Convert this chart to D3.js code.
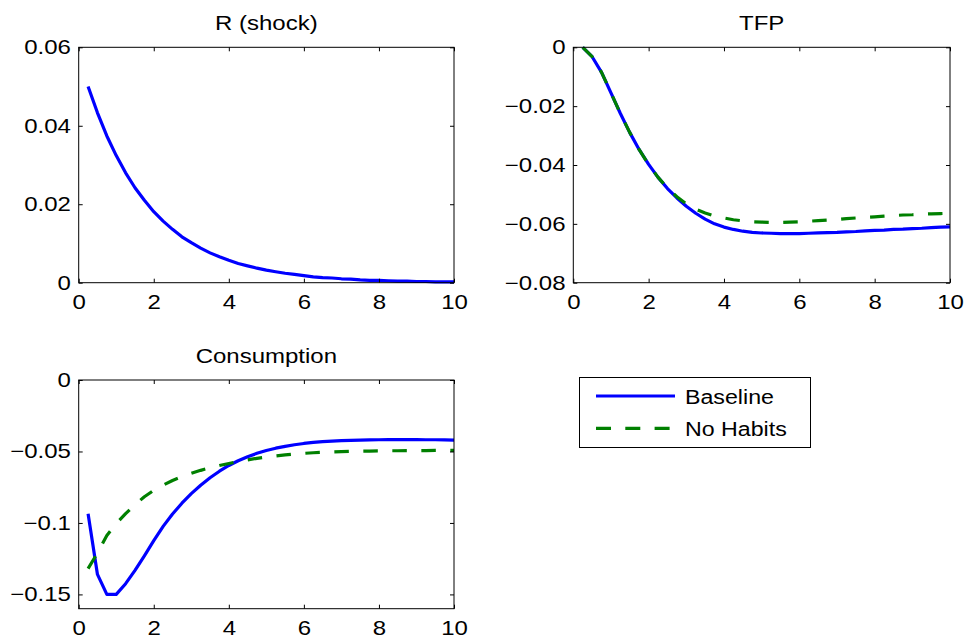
<!DOCTYPE html>
<html>
<head>
<meta charset="utf-8">
<script src="https://cdn.jsdelivr.net/npm/d3@7"></script>
<style>
  body { margin: 0; background: #fff; }
  svg text { font-family: "Liberation Sans", Arial, Helvetica, sans-serif; fill: #000; }
</style>
</head>
<body>
<div id="chart"></div>
<script>
// quarters after the shock (x axis)
var quarters = [0.25, 0.5, 0.75, 1, 1.25, 1.5, 1.75, 2, 2.25, 2.5,
  2.75, 3, 3.25, 3.5, 3.75, 4, 4.25, 4.5, 4.75, 5,
  5.25, 5.5, 5.75, 6, 6.25, 6.5, 6.75, 7, 7.25, 7.5,
  7.75, 8, 8.25, 8.5, 8.75, 9, 9.25, 9.5, 9.75, 10];

// R (shock)
var rShock = [0.05, 0.0433, 0.0374, 0.0324, 0.0280, 0.0242, 0.0210, 0.0181, 0.0157, 0.0136,
  0.0117, 0.0102, 0.0088, 0.0076, 0.0066, 0.0057, 0.0049, 0.0043, 0.0037, 0.0032,
  0.0028, 0.0024, 0.0021, 0.0018, 0.0015, 0.0013, 0.0012, 0.0010, 0.0009, 0.0007,
  0.0006, 0.0006, 0.0005, 0.0004, 0.0004, 0.0003, 0.0003, 0.0002, 0.0002, 0.0002];

// TFP
var tfpBaseline = [0, -0.0032, -0.0085, -0.0155, -0.0225, -0.029, -0.0348, -0.0398, -0.0442, -0.048,
  -0.0512, -0.054, -0.0564, -0.0584, -0.06, -0.0611, -0.0619, -0.0625, -0.0629, -0.0631,
  -0.0632, -0.0633, -0.0633, -0.0633, -0.0632, -0.0631, -0.063, -0.0629, -0.0627, -0.0626,
  -0.0624, -0.0622, -0.0621, -0.0619, -0.0618, -0.0616, -0.0615, -0.0613, -0.0611, -0.061];
var tfpNoHabits = [0, -0.0032, -0.0085, -0.0155, -0.0225, -0.029, -0.0348, -0.0398, -0.0442, -0.0478,
  -0.0508, -0.0532, -0.055, -0.0563, -0.0573, -0.058, -0.0586, -0.059, -0.0593, -0.0594,
  -0.0595, -0.0595, -0.0594, -0.0593, -0.0591, -0.0589, -0.0587, -0.0585, -0.0582, -0.058,
  -0.0578, -0.0576, -0.0574, -0.0572, -0.057, -0.0569, -0.0567, -0.0566, -0.0565, -0.0564];

// Consumption
var consBaseline = [-0.0935, -0.136, -0.150, -0.150, -0.1425, -0.1332, -0.1230, -0.1124, -0.1024, -0.0938,
  -0.0862, -0.0795, -0.0736, -0.0684, -0.0638, -0.0598, -0.0565, -0.0537, -0.0513, -0.0493,
  -0.0477, -0.0464, -0.0453, -0.0444, -0.0437, -0.0431, -0.0427, -0.0424, -0.0422, -0.0420,
  -0.0419, -0.0418, -0.0417, -0.0417, -0.0417, -0.0417, -0.0418, -0.0418, -0.0419, -0.0420];
var consNoHabits = [-0.132, -0.121, -0.1088, -0.1005, -0.0935, -0.0872, -0.0817, -0.0772, -0.0735, -0.0703,
  -0.0676, -0.0653, -0.0632, -0.0614, -0.0598, -0.0584, -0.0571, -0.0559, -0.0548, -0.0539,
  -0.0531, -0.0524, -0.0518, -0.0513, -0.0509, -0.0506, -0.0503, -0.0501, -0.0499, -0.0498,
  -0.0497, -0.0496, -0.0495, -0.0495, -0.0494, -0.0494, -0.0494, -0.0493, -0.0493, -0.0493];

// ticks
var xTicks = [0, 2, 4, 6, 8, 10];
var rTicks = [0, 0.02, 0.04, 0.06];
var tfpTicks = [0, -0.02, -0.04, -0.06, -0.08];
var consTicks = [0, -0.05, -0.1, -0.15];

var seriesNames = ['Baseline', 'No Habits'];

var svgWidth = 968;
var svgHeight = 639;
var fontSize = 20;
var stretch = 1.2;   // text in the picture is a bit wider than normal

var svg = d3.select('#chart')
  .append('svg')
  .attr('width', svgWidth)
  .attr('height', svgHeight);

var styles = {
  base: { color: '#0000ff', dash: null },
  nohab: { color: '#008000', dash: '14.5 14.5' }
};

var panels = [
  { title: 'R (shock)', left: 78.7, right: 454, top: 47.3, bottom: 282.7,
    domain: [0, 0.06], ticks: rTicks, lines: [{ values: rShock, style: styles.base }] },
  { title: 'TFP', left: 573.3, right: 950, top: 47.3, bottom: 282.7,
    domain: [-0.08, 0], ticks: tfpTicks,
    lines: [{ values: tfpBaseline, style: styles.base }, { values: tfpNoHabits, style: styles.nohab }] },
  { title: 'Consumption', left: 78.7, right: 454, top: 380, bottom: 608.7,
    domain: [-0.16, 0], ticks: consTicks,
    lines: [{ values: consBaseline, style: styles.base }, { values: consNoHabits, style: styles.nohab }] }
];

function fmt(d) {
  return String(+d.toFixed(4)).replace('-', '\u2212');
}

function styleTicks(axisG) {
  axisG.select('.domain').remove();
  axisG.selectAll('line').attr('stroke', '#000');
  axisG.selectAll('text')
    .attr('font-size', fontSize)
    .attr('font-family', '"Liberation Sans", Arial, Helvetica, sans-serif')
    .attr('fill', '#000')
    .attr('transform', 'scale(' + stretch + ',1)');
}

panels.forEach(function(p) {
  var x = d3.scaleLinear().domain([0, 10]).range([p.left, p.right]);
  var y = d3.scaleLinear().domain(p.domain).range([p.bottom, p.top]);
  var g = svg.append('g');

  // lines first, then the box on top
  var line = d3.line()
    .x(function(d, i) { return x(quarters[i]); })
    .y(function(d) { return y(d); });

  p.lines.forEach(function(l) {
    g.append('path')
      .datum(l.values)
      .attr('fill', 'none')
      .attr('stroke', l.style.color)
      .attr('stroke-width', 3.2)
      .attr('stroke-linejoin', 'round')
      .attr('stroke-dasharray', l.style.dash)
      .attr('d', line);
  });

  g.append('g')
    .attr('transform', 'translate(0,' + p.bottom + ')')
    .call(d3.axisBottom(x).tickValues(xTicks).tickSize(-4).tickPadding(12).tickFormat(fmt))
    .call(styleTicks);
  g.append('g')
    .attr('transform', 'translate(0,' + p.top + ')')
    .call(d3.axisTop(x).tickValues(xTicks).tickSize(-4).tickFormat(''))
    .call(styleTicks);
  g.append('g')
    .attr('transform', 'translate(' + p.left + ',0)')
    .call(d3.axisLeft(y).tickValues(p.ticks).tickSize(-4).tickPadding(6.5).tickFormat(fmt))
    .call(styleTicks);
  g.append('g')
    .attr('transform', 'translate(' + p.right + ',0)')
    .call(d3.axisRight(y).tickValues(p.ticks).tickSize(-4).tickFormat(''))
    .call(styleTicks);

  g.append('rect')
    .attr('x', p.left)
    .attr('y', p.top)
    .attr('width', p.right - p.left)
    .attr('height', p.bottom - p.top)
    .attr('fill', 'none')
    .attr('stroke', '#000')
    .attr('stroke-width', 1);

  g.append('g')
    .attr('transform', 'translate(' + ((p.left + p.right) / 2) + ',' + (p.top - 17.5) + ') scale(' + stretch + ',1)')
    .append('text')
    .attr('text-anchor', 'middle')
    .attr('font-size', fontSize)
    .text(p.title);
});

// legend
var legend = svg.append('g');
legend.append('rect')
  .attr('x', 579.5)
  .attr('y', 377.5)
  .attr('width', 231)
  .attr('height', 70)
  .attr('fill', '#fff')
  .attr('stroke', '#000')
  .attr('stroke-width', 1);

[styles.base, styles.nohab].forEach(function(s, i) {
  var ly = 396 + i * 32.3;
  legend.append('line')
    .attr('x1', 596)
    .attr('x2', 675)
    .attr('y1', ly)
    .attr('y2', ly)
    .attr('stroke', s.color)
    .attr('stroke-width', 3.2)
    .attr('stroke-dasharray', s.dash ? '15 14.3' : null);
  legend.append('g')
    .attr('transform', 'translate(685,' + (ly + 8) + ') scale(1.16,1)')
    .append('text')
    .attr('font-size', fontSize)
    .text(seriesNames[i]);
});
</script>
</body>
</html>
